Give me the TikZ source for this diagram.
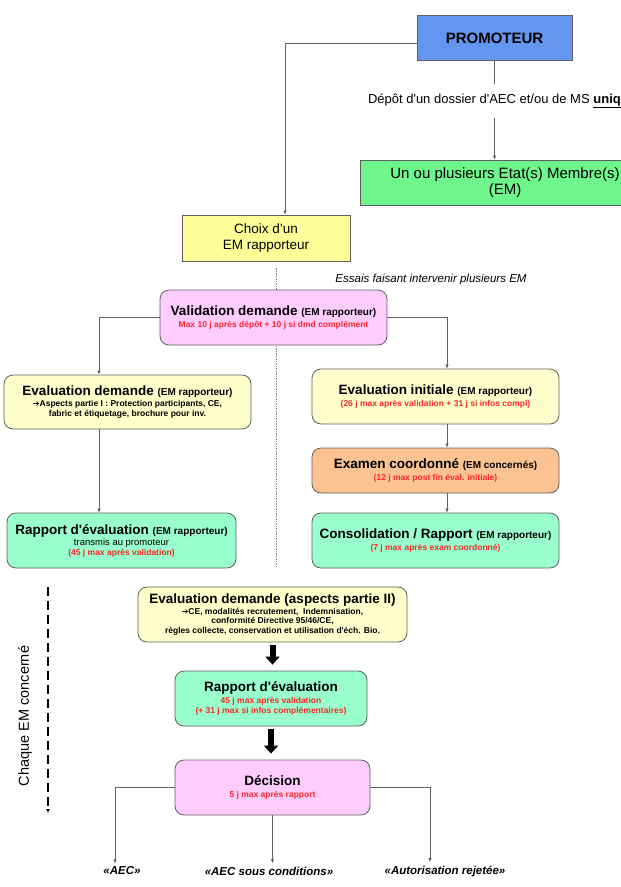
\documentclass[tikz,border=0pt]{standalone}
\usepackage{fontspec}
\setmainfont{Liberation Sans}
\newfontfamily\symboles{DejaVu Sans}
\usetikzlibrary{arrows.meta}

\definecolor{bleuprom}{RGB}{100,150,240}
\definecolor{vertem}{RGB}{110,245,140}
\definecolor{jaune}{RGB}{255,255,153}
\definecolor{rose}{RGB}{255,204,255}
\definecolor{creme}{RGB}{255,255,204}
\definecolor{peche}{RGB}{250,195,145}
\definecolor{menthe}{RGB}{153,255,204}
\definecolor{bord}{RGB}{95,95,95}
\definecolor{rouge}{RGB}{250,40,40}

\newcommand{\grand}{\fontsize{13.5}{15}\selectfont}
\newcommand{\moyen}{\fontsize{10}{12}\selectfont}
\newcommand{\petit}{\fontsize{8.5}{10}\selectfont}
\newcommand{\fl}{{\symboles\fontsize{8}{10}\selectfont ➔}}
\newcommand{\apo}{\textquotesingle}

\begin{document}
\begin{tikzpicture}[x=1pt,y=-1pt,
	boite/.style={draw=bord,line width=0.8pt,inner sep=0pt,align=center},
	arrondie/.style={boite,rounded corners=9pt,font=\petit\bfseries},
	lien/.style={draw=bord,line width=0.7pt},
	fleche/.style={lien,-{Latex[length=4pt,width=3.5pt]}},
	grosse/.style={line width=6pt,-{Triangle[length=8pt,width=14pt]},shorten <=3pt,shorten >=6pt},
	separ/.style={draw=gray,line width=0.7pt,dash pattern=on 2pt off 1.2pt on 0.6pt off 1.2pt},
	etiquette/.style={font=\fontsize{11.5}{13}\selectfont\bfseries\itshape}]
	\useasboundingbox (0,0) rectangle (621,887);
	\coordinate (gauche) at (99,0);
	\coordinate (droite) at (447,0);
	\coordinate (sephaut) at (276,268);
	\coordinate (sepbas) at (276,567);
	\coordinate (chaqhaut) at (48,587);
	\coordinate (chaqbas) at (48,813);
	\draw[separ] (sephaut) -- (sepbas);
	\node[boite,fill=bleuprom,minimum width=155pt,minimum height=45pt,font=\fontsize{15}{17}\selectfont\bfseries] (prom) at (494.5,38) {PROMOTEUR};
	\node[inner xsep=0pt,inner ysep=10pt,font=\fontsize{13}{15}\selectfont] (depot) at (502,101) {Dépôt d\apo un dossier d\apo AEC et/ou de MS \textbf{\underline{unique}}};
	\node[boite,fill=vertem,minimum width=290pt,minimum height=45pt,font=\fontsize{15}{16}\selectfont] (em) at (505,182.5) {Un ou plusieurs Etat(s) Membre(s)\\(EM)};
	\node[boite,fill=jaune,minimum width=168pt,minimum height=46pt,font=\fontsize{13.5}{16}\selectfont] (choix) at (266,238) {Choix d’un\\EM rapporteur};
	\node[font=\fontsize{11.5}{13}\selectfont\itshape] (essais) at (431,280) {Essais faisant intervenir plusieurs EM};
	\node[arrondie,fill=rose,minimum width=227pt,minimum height=55pt] (valid) at (273.5,317.5) {{\grand Validation demande {\moyen (EM rapporteur)}}\\[2pt]\textcolor{rouge}{Max 10 j après dépôt + 10 j si dmd complément}};
	\node[arrondie,fill=creme,minimum width=247pt,minimum height=54pt] (evdem) at (127.5,402) {{\grand Evaluation demande {\moyen (EM rapporteur)}}\\[1pt]\fl Aspects partie I : Protection participants, CE,\\fabric et étiquetage, brochure pour inv.};
	\node[arrondie,fill=menthe,minimum width=229pt,minimum height=55pt] (rapp) at (121.5,540.5) {{\grand Rapport d\apo évaluation {\moyen (EM rapporteur)}}\\[1pt]{\mdseries\fontsize{9.5}{11}\selectfont transmis au promoteur}\\\textcolor{rouge}{(45 j max après validation)}};
	\node[arrondie,fill=creme,minimum width=247pt,minimum height=55pt] (evini) at (435.5,396.5) {{\grand Evaluation initiale {\moyen (EM rapporteur)}}\\[2pt]\textcolor{rouge}{(26 j max après validation + 31 j si infos compl)}};
	\node[arrondie,fill=peche,minimum width=247pt,minimum height=45pt] (exam) at (435.5,470.5) {{\grand Examen coordonné {\moyen (EM concernés)}}\\[2pt]\textcolor{rouge}{(12 j max post fin éval. initiale)}};
	\node[arrondie,fill=menthe,minimum width=247pt,minimum height=55pt] (conso) at (435.5,540.5) {{\grand Consolidation / Rapport {\moyen (EM rapporteur)}}\\[2pt]\textcolor{rouge}{(7 j max après exam coordonné)}};
	\node[rotate=90,font=\fontsize{14.5}{16}\selectfont] (chaque) at (25,716) {Chaque EM concerné};
	\node[arrondie,fill=creme,minimum width=269pt,minimum height=55pt] (evdemb) at (272.5,614.5) {{\grand Evaluation demande (aspects partie II)}\\[1pt]\fl CE, modalités recrutement,~ Indemnisation,\\conformité Directive 95/46/CE,\\règles collecte, conservation et utilisation d\apo éch. Bio.};
	\node[arrondie,fill=menthe,minimum width=192pt,minimum height=55pt] (rappb) at (271,698.5) {{\grand Rapport d\apo évaluation}\\[2pt]\textcolor{rouge}{45 j max après validation}\\\textcolor{rouge}{(+ 31 j max si infos complémentaires)}};
	\node[arrondie,fill=rose,minimum width=195pt,minimum height=55pt] (dec) at (272.5,787.5) {{\grand Décision}\\[2pt]\textcolor{rouge}{5 j max après rapport}};
	\node[etiquette] (aec) at (122,871) {«AEC»};
	\node[etiquette] (aecc) at (269,871) {«AEC sous conditions»};
	\node[etiquette] (rej) at (445,871) {«Autorisation rejetée»};
	\draw[fleche] ([yshift=-5pt]prom.west) -| ([xshift=19pt]choix.north);
	\draw[lien] (prom.south) -- (prom.south |- depot.north);
	\draw[fleche] (prom.south |- depot.south) -- (prom.south |- em.north);
	\draw[fleche] (valid.west) -| (gauche |- evdem.north);
	\draw[fleche] (valid.east) -| (droite |- evini.north);
	\draw[fleche] (gauche |- evdem.south) -- (gauche |- rapp.north);
	\draw[fleche] (droite |- evini.south) -- (droite |- exam.north);
	\draw[fleche] (droite |- exam.south) -- (droite |- conso.north);
	\draw[grosse] (evdemb.south) -- (evdemb.south |- rappb.north);
	\draw[grosse] (rappb.south) -- (rappb.south |- dec.north);
	\draw[fleche] (dec.west) -| ([xshift=-7pt]aec.north);
	\draw[fleche] (dec.south) -- (dec.south |- aecc.north);
	\draw[fleche] (dec.east) -| ([xshift=-15pt]rej.north);
	\draw[line width=1.3pt,dash pattern=on 9pt off 5pt,-{Latex[length=4pt,width=4pt]}] (chaqhaut) -- (chaqbas);
\end{tikzpicture}
\end{document}
